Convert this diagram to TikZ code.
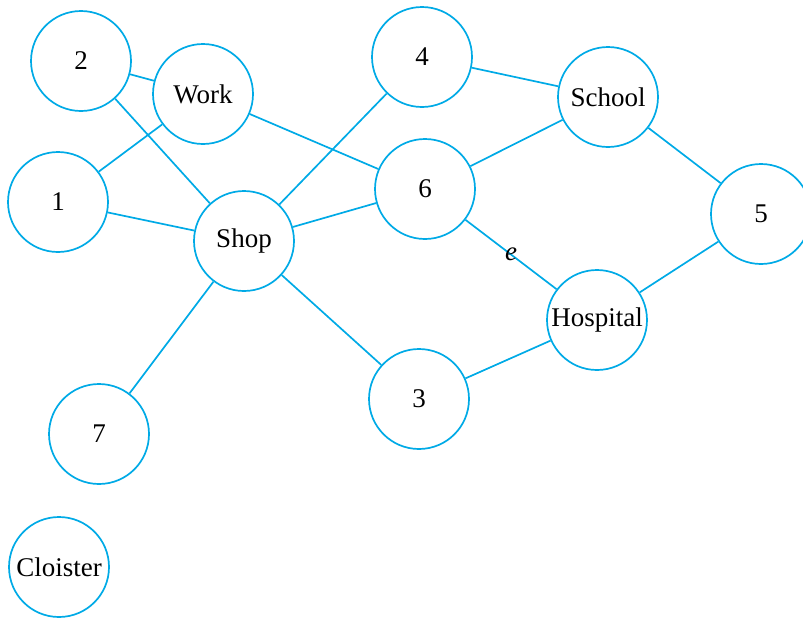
\documentclass[tikz,border=0pt]{standalone}
\usepackage{fontspec}
\setmainfont{Liberation Serif}
\definecolor{edgeblue}{RGB}{0,170,230}
\begin{document}
\begin{tikzpicture}[x=1pt,y=-1pt,
  vert/.style={circle,draw=edgeblue,line width=1.7pt,minimum size=100pt,inner sep=0pt,font=\fontsize{27}{32}\selectfont},
  edge/.style={draw=edgeblue,line width=1.7pt}]
\useasboundingbox (0,0) rectangle (803,619);
\node[vert] (n2) at (81,61) {2};
\node[vert] (work) at (203,94) {Work};
\node[vert] (n1) at (58,202) {1};
\node[vert] (shop) at (244,241) {Shop};
\node[vert] (n4) at (422,57) {4};
\node[vert] (n6) at (425,189) {6};
\node[vert] (school) at (608,97) {School};
\node[vert] (n5) at (761,214) {5};
\node[vert] (hosp) at (597,320) {Hospital};
\node[vert] (n3) at (419,399) {3};
\node[vert] (n7) at (99,434) {7};
\node[vert] (cloister) at (59,567) {Cloister};
\draw[edge] (n2) -- (work);
\draw[edge] (n2) -- (shop);
\draw[edge] (n1) -- (work);
\draw[edge] (n1) -- (shop);
\draw[edge] (work) -- (n6);
\draw[edge] (shop) -- (n4);
\draw[edge] (shop) -- (n6);
\draw[edge] (shop) -- (n3);
\draw[edge] (shop) -- (n7);
\draw[edge] (n4) -- (school);
\draw[edge] (n6) -- (school);
\draw[edge] (n6) -- node[pos=0.5,font=\fontsize{27}{32}\selectfont\itshape,inner sep=0pt] (elab) {e} (hosp);
\draw[edge] (school) -- (n5);
\draw[edge] (n5) -- (hosp);
\draw[edge] (n3) -- (hosp);
\end{tikzpicture}
\end{document}
